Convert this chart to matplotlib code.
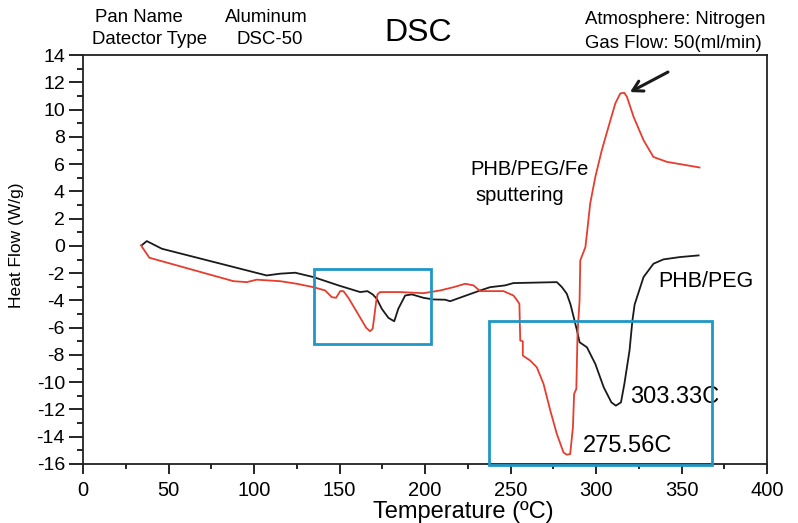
import matplotlib
matplotlib.use("Agg")
import matplotlib.pyplot as plt
from matplotlib.patches import Rectangle
from matplotlib.ticker import MultipleLocator

plt.rcParams["font.family"] = ["Liberation Sans", "DejaVu Sans"]
plt.rcParams["axes.unicode_minus"] = False

RED = "#e63d2e"
BLACK = "#1a1a1a"
BOX = "#1f97c6"

# PHB/PEG (black)
t_peg = [34.3, 37.3, 46.1, 107.4, 115.3, 124.1, 134.8, 149.4, 162.1, 166.3,
         169.4, 171.8, 174.7, 178.6, 182.0, 184.4, 188.4, 192.3, 199.1, 204.9,
         211.8, 214.7, 232.3, 238.1, 246.8, 251.7, 277.1, 280.1, 282.9, 285.1,
         288.9, 290.4, 294.7, 299.6, 304.5, 309.0, 311.6, 314.6, 316.6, 319.6,
         321.3, 322.6, 327.8, 333.6, 339.5, 349.2, 360.0]
hf_peg = [0.04, 0.35, -0.21, -2.17, -2.04, -1.97, -2.29, -2.90, -3.39, -3.32,
          -3.56, -3.88, -4.61, -5.28, -5.53, -4.61, -3.64, -3.56, -3.81, -3.93,
          -3.95, -4.06, -3.27, -3.03, -2.90, -2.73, -2.66, -3.03, -3.51, -4.30,
          -6.21, -7.07, -7.44, -8.66, -10.37, -11.48, -11.72, -11.48, -10.12, -7.68,
          -5.47, -4.30, -2.29, -1.31, -0.99, -0.82, -0.70]

# PHB/PEG/Fe sputtering (red)
t_fe = [33.9, 38.8, 88.0, 95.8, 101.6, 115.3, 125.0, 134.8, 141.6, 145.5,
        148.0, 150.4, 152.3, 155.2, 160.2, 165.6, 167.9, 169.4, 170.3, 171.4,
        172.2, 173.7, 185.5, 199.1, 208.9, 216.7, 223.5, 228.4, 232.3, 245.9,
        251.7, 253.3, 255.2, 255.7, 257.2, 257.2, 261.5, 265.4, 269.3, 273.3,
        277.1, 281.0, 282.9, 284.9, 286.5, 287.2, 288.5, 289.2, 290.4, 290.8,
        293.8, 294.7, 296.6, 299.6, 303.4, 307.3, 311.3, 314.2, 316.5, 318.1,
        322.0, 327.8, 333.6, 341.5, 353.2, 360.5]
hf_fe = [0.04, -0.87, -2.59, -2.66, -2.48, -2.59, -2.78, -3.03, -3.27, -3.76,
         -3.81, -3.32, -3.32, -3.81, -4.86, -6.01, -6.26, -6.08, -5.23, -4.13,
         -3.56, -3.39, -3.39, -3.47, -3.27, -3.03, -2.78, -2.90, -3.32, -3.32,
         -3.64, -3.90, -4.25, -6.94, -7.00, -8.05, -8.41, -8.91, -10.12, -12.09,
         -13.80, -15.15, -15.32, -15.27, -13.31, -10.86, -10.49, -6.45, -4.00, -1.07,
         -0.09, 0.90, 3.10, 5.06, 7.02, 8.73, 10.45, 11.18, 11.23, 10.93,
         9.46, 7.75, 6.52, 6.16, 5.91, 5.75]

# highlight boxes: (t_min, t_max, hf_min, hf_max)
boxes = [(135.3, 203.6, -7.19, -1.68), (237.7, 367.8, -16.07, -5.53)]

W, H = 798, 523
fig = plt.figure(figsize=(W / 100, H / 100), dpi=100)
ax = fig.add_axes([83 / W, 1 - 464 / H, (767 - 83) / W, (464 - 55) / H])

ax.plot(t_peg, hf_peg, color=BLACK, lw=1.3)
ax.plot(t_fe, hf_fe, color=RED, lw=1.3)

for t0, t1, h0, h1 in boxes:
    ax.add_patch(Rectangle((t0, h0), t1 - t0, h1 - h0, fill=False,
                           edgecolor=BOX, lw=2.0, clip_on=False, zorder=5))

ax.set_xlim(0, 400)
ax.set_ylim(-16, 14)
ax.xaxis.set_major_locator(MultipleLocator(50))
ax.xaxis.set_minor_locator(MultipleLocator(25))
ax.yaxis.set_major_locator(MultipleLocator(2))
ax.yaxis.set_minor_locator(MultipleLocator(1))
ax.tick_params(axis="x", which="major", direction="out", length=7, width=1.2,
               labelsize=14.5, pad=5)
ax.tick_params(axis="x", which="minor", direction="out", length=3.5, width=1.2)
ax.tick_params(axis="y", which="major", direction="out", length=10, width=1.2,
               labelsize=14, pad=3)
ax.tick_params(axis="y", which="minor", direction="out", length=4.5, width=1.2)
for s in ax.spines.values():
    s.set_linewidth(1.3)
    s.set_color("#222222")

fig.text(463 / W, 1 - 512 / H, "Temperature (ºC)", fontsize=17,
         ha="center", va="center")
fig.text(17 / W, 1 - 245 / H, "Heat Flow (W/g)", rotation=90, fontsize=12.5,
         ha="center", va="center")

ax.text(226.3, 5.62, "PHB/PEG/Fe", fontsize=14.5, va="center", ha="left")
ax.text(229.2, 3.71, "sputtering", fontsize=14.5, va="center", ha="left")
ax.text(336.3, -2.61, "PHB/PEG", fontsize=15.5, va="center", ha="left")
ax.text(319.9, -11.11, "303.33C", fontsize=17, va="center", ha="left")
ax.text(292.4, -14.66, "275.56C", fontsize=17, va="center", ha="left")

ax.annotate("", xy=(319.9, 11.28), xytext=(342.1, 12.75),
            arrowprops=dict(arrowstyle="->,head_length=0.7,head_width=0.4",
                            color=BLACK, lw=2.2, shrinkA=0, shrinkB=0))

def header(x, y, s, size=13.4, ha="left"):
    fig.text(x / W, 1 - y / H, s, fontsize=size, ha=ha, va="center")

header(95, 18, "Pan Name")
header(225, 18, "Aluminum")
header(92, 40, "Datector Type")
header(237, 40, "DSC-50")
header(418, 33, "DSC", size=23, ha="center")
header(585, 20, "Atmosphere: Nitrogen")
header(585, 43, "Gas Flow: 50(ml/min)")

fig.savefig("out.png", dpi=100)
